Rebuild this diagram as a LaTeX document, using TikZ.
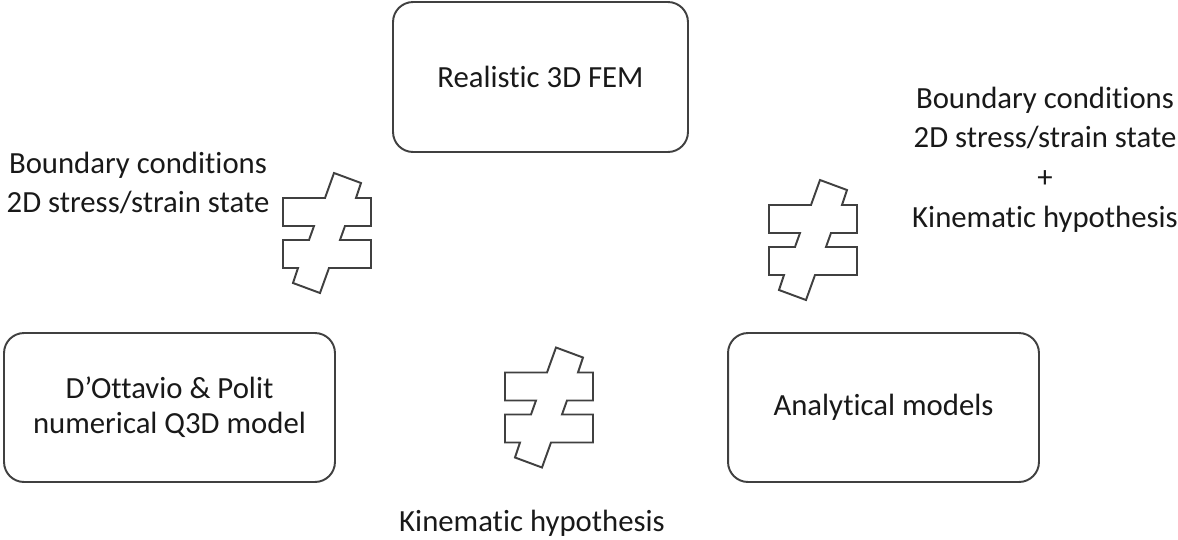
\documentclass[tikz,border=0pt]{standalone}
\usepackage{fontspec}
\setmainfont{Carlito}[Ligatures={NoCommon}]
\usepackage{tikz}
\tikzstyle{model}=[shape=rectangle,draw=black!75,line width=1.1pt,rounded corners=0.4cm,
  align=center,text=black!90,font=\fontsize{17.5}{20}\selectfont]
\tikzstyle{note}=[align=center,text=black!90,font=\fontsize{17.5}{22}\selectfont]
\tikzstyle{neq}=[draw=black!75,line width=1.1pt,line join=miter]
\tikzset{
  noteq/.pic={
    \draw[neq] (-44,-35) -- (-2,-35) -- (7,-60) -- (34,-50) -- (29,-35) -- (44,-35)
      -- (44,-7) -- (18,-7) -- (13,7) -- (44,7) -- (44,35) -- (2,35) -- (-7,60)
      -- (-34,50) -- (-29,35) -- (-44,35) -- (-44,7) -- (-18,7) -- (-13,-7)
      -- (-44,-7) -- cycle;
  }
}

\begin{document}
\begin{tikzpicture}[x=0.02cm,y=-0.02cm]
        \useasboundingbox (0,0) rectangle (1178,539);
        % models
        \node[model, minimum width=5.9cm, minimum height=3cm] (FEM) at (540.5, 77) {Realistic 3D FEM};
        \node[model, minimum width=6.62cm, minimum height=2.98cm] (Q3D) at (169.5, 407.5)
            {D’Ottavio \& Polit\\numerical Q3D model};
        \node[model, minimum width=6.22cm, minimum height=2.98cm] (AM) at (883.5, 407.5) {Analytical models};
        % assumptions
        \node[note] (BCleft) at (138, 183) {Boundary conditions\\2D stress/strain state};
        \node[note] (BCright) at (1045, 160)
            {Boundary conditions\\2D stress/strain state\\[1pt]+\\[1pt]Kinematic hypothesis};
        \node[note] (KH) at (532, 523) {Kinematic hypothesis};
        % not equal signs
        \pic at (327, 233) {noteq};
        \pic at (813, 240) {noteq};
        \pic at (549, 407.5) {noteq};
    \end{tikzpicture}
\end{document}
